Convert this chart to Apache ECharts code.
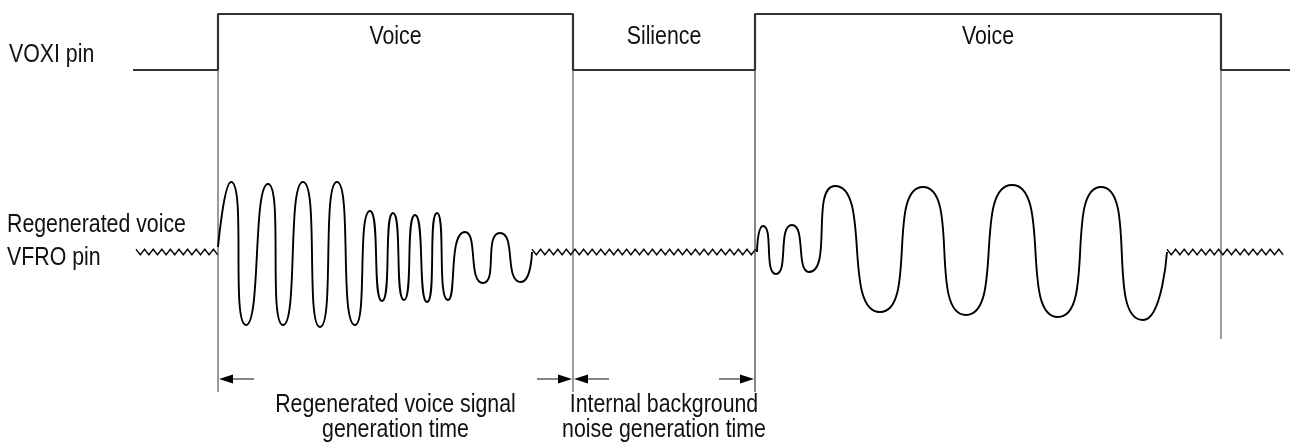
<!DOCTYPE html>
<html>
<head>
<meta charset="utf-8">
<title>VOXI / VFRO timing</title>
<script src="https://cdn.jsdelivr.net/npm/echarts@6/dist/echarts.min.js"></script>
<style>
  html, body { margin: 0; padding: 0; background: #fff; }
  #chart { width: 1292px; height: 446px; }
</style>
</head>
<body>
<div id="chart"></div>
<script>
// VOXI pin: edge times and levels (same units as the VFRO amplitude axis)
const voxiTimes = [133, 218, 573, 755, 1221, 1290]
const voxiLevels = [182, 238, 182, 238, 182, 182]
const phaseLabels = ['Voice', 'Silience', 'Voice']

// regenerated voice on VFRO, read peak by peak
const burst1Times = [218, 231, 246, 268, 283, 303, 320, 337, 355, 370, 382, 393, 404, 415, 427, 437, 448, 465, 483, 500, 521, 532]
const burst1Values = [5, 70, -73, 68, -73, 70, -75, 70, -73, 41, -49, 39, -48, 37, -50, 39, -48, 20, -31, 19, -30, 0]
const burst2Times = [757, 763, 776, 792, 809, 835, 880, 923, 966, 1012, 1058, 1101, 1143, 1167]
const burst2Values = [0, 26, -22, 27, -20, 66, -60, 65, -63, 67, -65, 65, -68, 0]

// background noise stretches (start, end)
const noiseSpans = [[136, 218], [532, 757], [1167, 1284]]

// guide lines dropped from the VOXI edges
const guideTimes = [218, 573, 755, 1221]
const guideBottoms = [-140, -140, -140, -87]
const guideColors = ['#7a7a7a', '#7a7a7a', '#111', '#7a7a7a']

// generation-time spans and their captions
const spans = [[218, 573], [573, 755]]
const spanCaptions = [
  ['Regenerated voice signal', 'generation time'],
  ['Internal background', 'noise generation time']
]
const arrowLevel = -127

// no condensed face installed, so squeeze Liberation Sans like Arial Narrow
const FONT = '26px "Liberation Sans", Arial, sans-serif'
const SQUEEZE = 0.82
const INK = '#111'

const chart = echarts.init(document.getElementById('chart'))

const zip = (xs, ys) => xs.map((x, i) => [x, ys[i]])

// zigzag texture for the noise segments
const renderNoise = (params, api) => {
  const a = api.coord([api.value(0), 0])
  const b = api.coord([api.value(1), 0])
  const pts = []
  let up = true
  for (let x = a[0]; x <= b[0]; x += 4.3) {
    pts.push([x, a[1] + (up ? -2.8 : 2.8)])
    up = !up
  }
  return {
    type: 'polyline',
    shape: { points: pts },
    style: { stroke: '#111', lineWidth: 1.4, fill: null }
  }
}

const renderGuide = (params, api) => {
  const top = api.coord([api.value(0), api.value(1)])
  const bottom = api.coord([api.value(0), api.value(2)])
  return {
    type: 'line',
    shape: { x1: top[0], y1: top[1], x2: bottom[0], y2: bottom[1] },
    style: { stroke: guideColors[params.dataIndex], lineWidth: params.dataIndex === 2 ? 1 : 1.5 }
  }
}

// two half arrows pointing out to the span ends
const renderSpan = (params, api) => {
  const a = api.coord([api.value(0), arrowLevel])
  const b = api.coord([api.value(1), arrowLevel])
  const y = a[1]
  const shaft = 36, head = 15, hw = 4.5
  const shaftStyle = { stroke: '#666', lineWidth: 1.6 }
  return {
    type: 'group',
    children: [
      { type: 'line', shape: { x1: a[0] + head, y1: y, x2: a[0] + shaft, y2: y }, style: shaftStyle },
      { type: 'line', shape: { x1: b[0] - shaft, y1: y, x2: b[0] - head, y2: y }, style: shaftStyle },
      { type: 'polygon', shape: { points: [[a[0] + 1, y], [a[0] + head, y - hw], [a[0] + head, y + hw]] }, style: { fill: '#000' } },
      { type: 'polygon', shape: { points: [[b[0] - 1, y], [b[0] - head, y - hw], [b[0] - head, y + hw]] }, style: { fill: '#000' } }
    ]
  }
}

const waveLine = (data) => ({
  type: 'line',
  data,
  smooth: 0.85,
  symbol: 'none',
  lineStyle: { color: '#000', width: 1.9 },
  silent: true,
  z: 3
})

chart.setOption({
  animation: false,
  grid: { left: 0, right: 0, top: 0, bottom: 0 },
  xAxis: { type: 'value', min: 0, max: 1292, show: false },
  yAxis: { type: 'value', min: -194, max: 252, show: false },
  series: [
    {
      type: 'line',
      data: zip(voxiTimes, voxiLevels),
      step: 'end',
      symbol: 'none',
      lineStyle: { color: '#333', width: 2.2 },
      silent: true,
      z: 4
    },
    {
      type: 'custom',
      renderItem: renderGuide,
      data: guideTimes.map((t, i) => [t, voxiLevels[0], guideBottoms[i]]),
      silent: true,
      z: 2
    },
    waveLine(zip(burst1Times, burst1Values)),
    waveLine(zip(burst2Times, burst2Values)),
    {
      type: 'custom',
      renderItem: renderNoise,
      data: noiseSpans,
      silent: true,
      z: 3
    },
    {
      type: 'custom',
      renderItem: renderSpan,
      data: spans,
      silent: true,
      z: 3
    }
  ]
})

// text labels, placed from the data where they belong to it
const px = (x, y) => chart.convertToPixel({ gridIndex: 0 }, [x, y])
const text = (str, x, y, align) => ({
  type: 'text',
  x, y,
  scaleX: SQUEEZE,
  style: { text: str, font: FONT, fill: INK, textAlign: align, textVerticalAlign: 'middle', align, verticalAlign: 'middle' },
  silent: true
})

const graphics = [
  text('VOXI pin', 9, 55, 'left'),
  text('Regenerated voice', 7, 225, 'left'),
  text('VFRO pin', 7, 258, 'left')
]
phaseLabels.forEach((label, i) => {
  const p = px((voxiTimes[i + 1] + voxiTimes[i + 2]) / 2, voxiLevels[1])
  graphics.push(text(label, p[0], p[1] + 23, 'center'))
})
spans.forEach((s, i) => {
  const p = px((s[0] + s[1]) / 2, arrowLevel)
  graphics.push(text(spanCaptions[i][0], p[0], p[1] + 26, 'center'))
  graphics.push(text(spanCaptions[i][1], p[0], p[1] + 51, 'center'))
})

chart.setOption({ graphic: graphics })
</script>
</body>
</html>
